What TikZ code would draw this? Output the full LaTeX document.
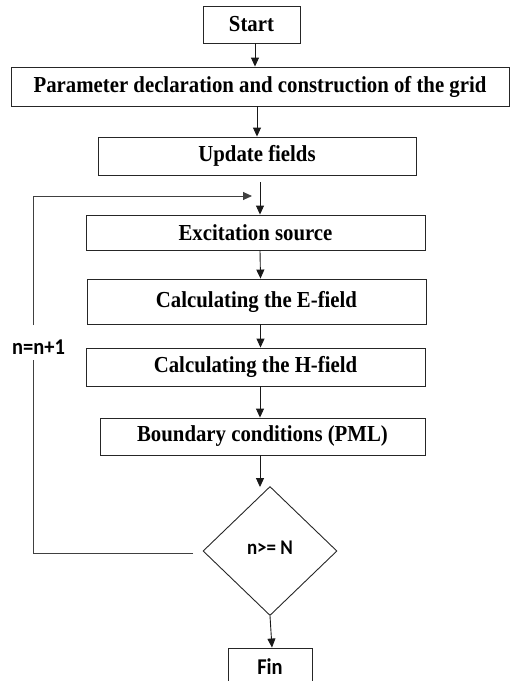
\documentclass[tikz,border=0pt]{standalone}
\usepackage{fontspec}
\usepackage{graphicx}
\setmainfont{Liberation Serif}
\newfontfamily\calfont{Carlito}
\newcommand\tallt[1]{\scalebox{1}[1.1]{#1}}
\usetikzlibrary{shapes.geometric,arrows.meta}
\begin{document}
\begin{tikzpicture}[x=1pt,y=-1pt,
  line width=0.9pt,
  box/.style={draw=black!85, rectangle, inner sep=0pt, font=\fontsize{20.8}{24}\selectfont\bfseries},
  calbox/.style={draw=black!85, rectangle, inner sep=0pt, font=\calfont\fontsize{20.5}{24}\selectfont\bfseries},
  arr/.style={draw=black!90, -{Triangle[length=9pt,width=8pt]}},
  plain/.style={draw=black!75}
]
\useasboundingbox (0,0) rectangle (510,681);
\clip (0,0) rectangle (510,681);
\node[box, minimum width=97, minimum height=37] (start) at (251.5,24.5) {\tallt{Start}};
\node[box, minimum width=498, minimum height=39] (param) at (260,86.5) {\tallt{Parameter declaration and construction of the grid}};
\node[box, minimum width=318, minimum height=38] (upd) at (257,156) {\tallt{Update fields}};
\node[box, minimum width=339, minimum height=35] (exc) at (255.5,232.5) {\tallt{Excitation source}};
\node[box, minimum width=339, minimum height=45] (ef) at (256.5,301.5) {\tallt{Calculating the E-field}};
\node[box, minimum width=339, minimum height=38] (hf) at (255.5,367) {\tallt{Calculating the H-field}};
\node[box, minimum width=325, minimum height=37] (bc) at (262.5,436.5) {\tallt{Boundary conditions (PML)}};
\node[draw=black!85, diamond, shape aspect=1.04, minimum width=134, minimum height=129, inner sep=0pt,
      font=\calfont\fontsize{19}{22}\selectfont\bfseries] (dec) at (270,551) {\raisebox{6pt}{\tallt{n>= N}}};
\node[calbox, minimum width=84, minimum height=38] (fin) at (270,667) {\tallt{Fin}};
\node[font=\calfont\fontsize{20.5}{24}\selectfont\bfseries, inner sep=0pt] (inc) at (38.5,347) {\tallt{n=n+1}};

\draw[arr] ([xshift=3.5]start.south) -- ([xshift=-5]param.north);
\draw[arr] ([xshift=-3]param.south) -- (upd.north);
\draw[arr] ([xshift=3,yshift=-7]upd.south) -- ([xshift=4.5]exc.north);
\draw[arr] ([xshift=4.5]exc.south) -- ([xshift=4]ef.north);
\draw[arr] ([xshift=4]ef.south) -- ([xshift=5]hf.north);
\draw[arr] ([xshift=4.5]hf.south) -- ([xshift=-2.5]bc.north);
\draw[arr] ([xshift=-2.5]bc.south) -- ([xshift=-10,yshift=-1]dec.north);
\draw[arr] (dec.south) -- ([xshift=2]fin.north);

\coordinate (lstart) at (193,553);
\coordinate (lcorner) at (33,553);
\coordinate (gapbot) at (33,360);
\coordinate (gaptop) at (33,325);
\coordinate (tcorner) at (33,196);
\coordinate (lend) at (252,196);
\draw[plain] (lstart) -- (lcorner) -- (gapbot);
\draw[plain] (gaptop) -- (tcorner);
\draw[arr, draw=black!75] (tcorner) -- (lend);
\end{tikzpicture}
\end{document}
